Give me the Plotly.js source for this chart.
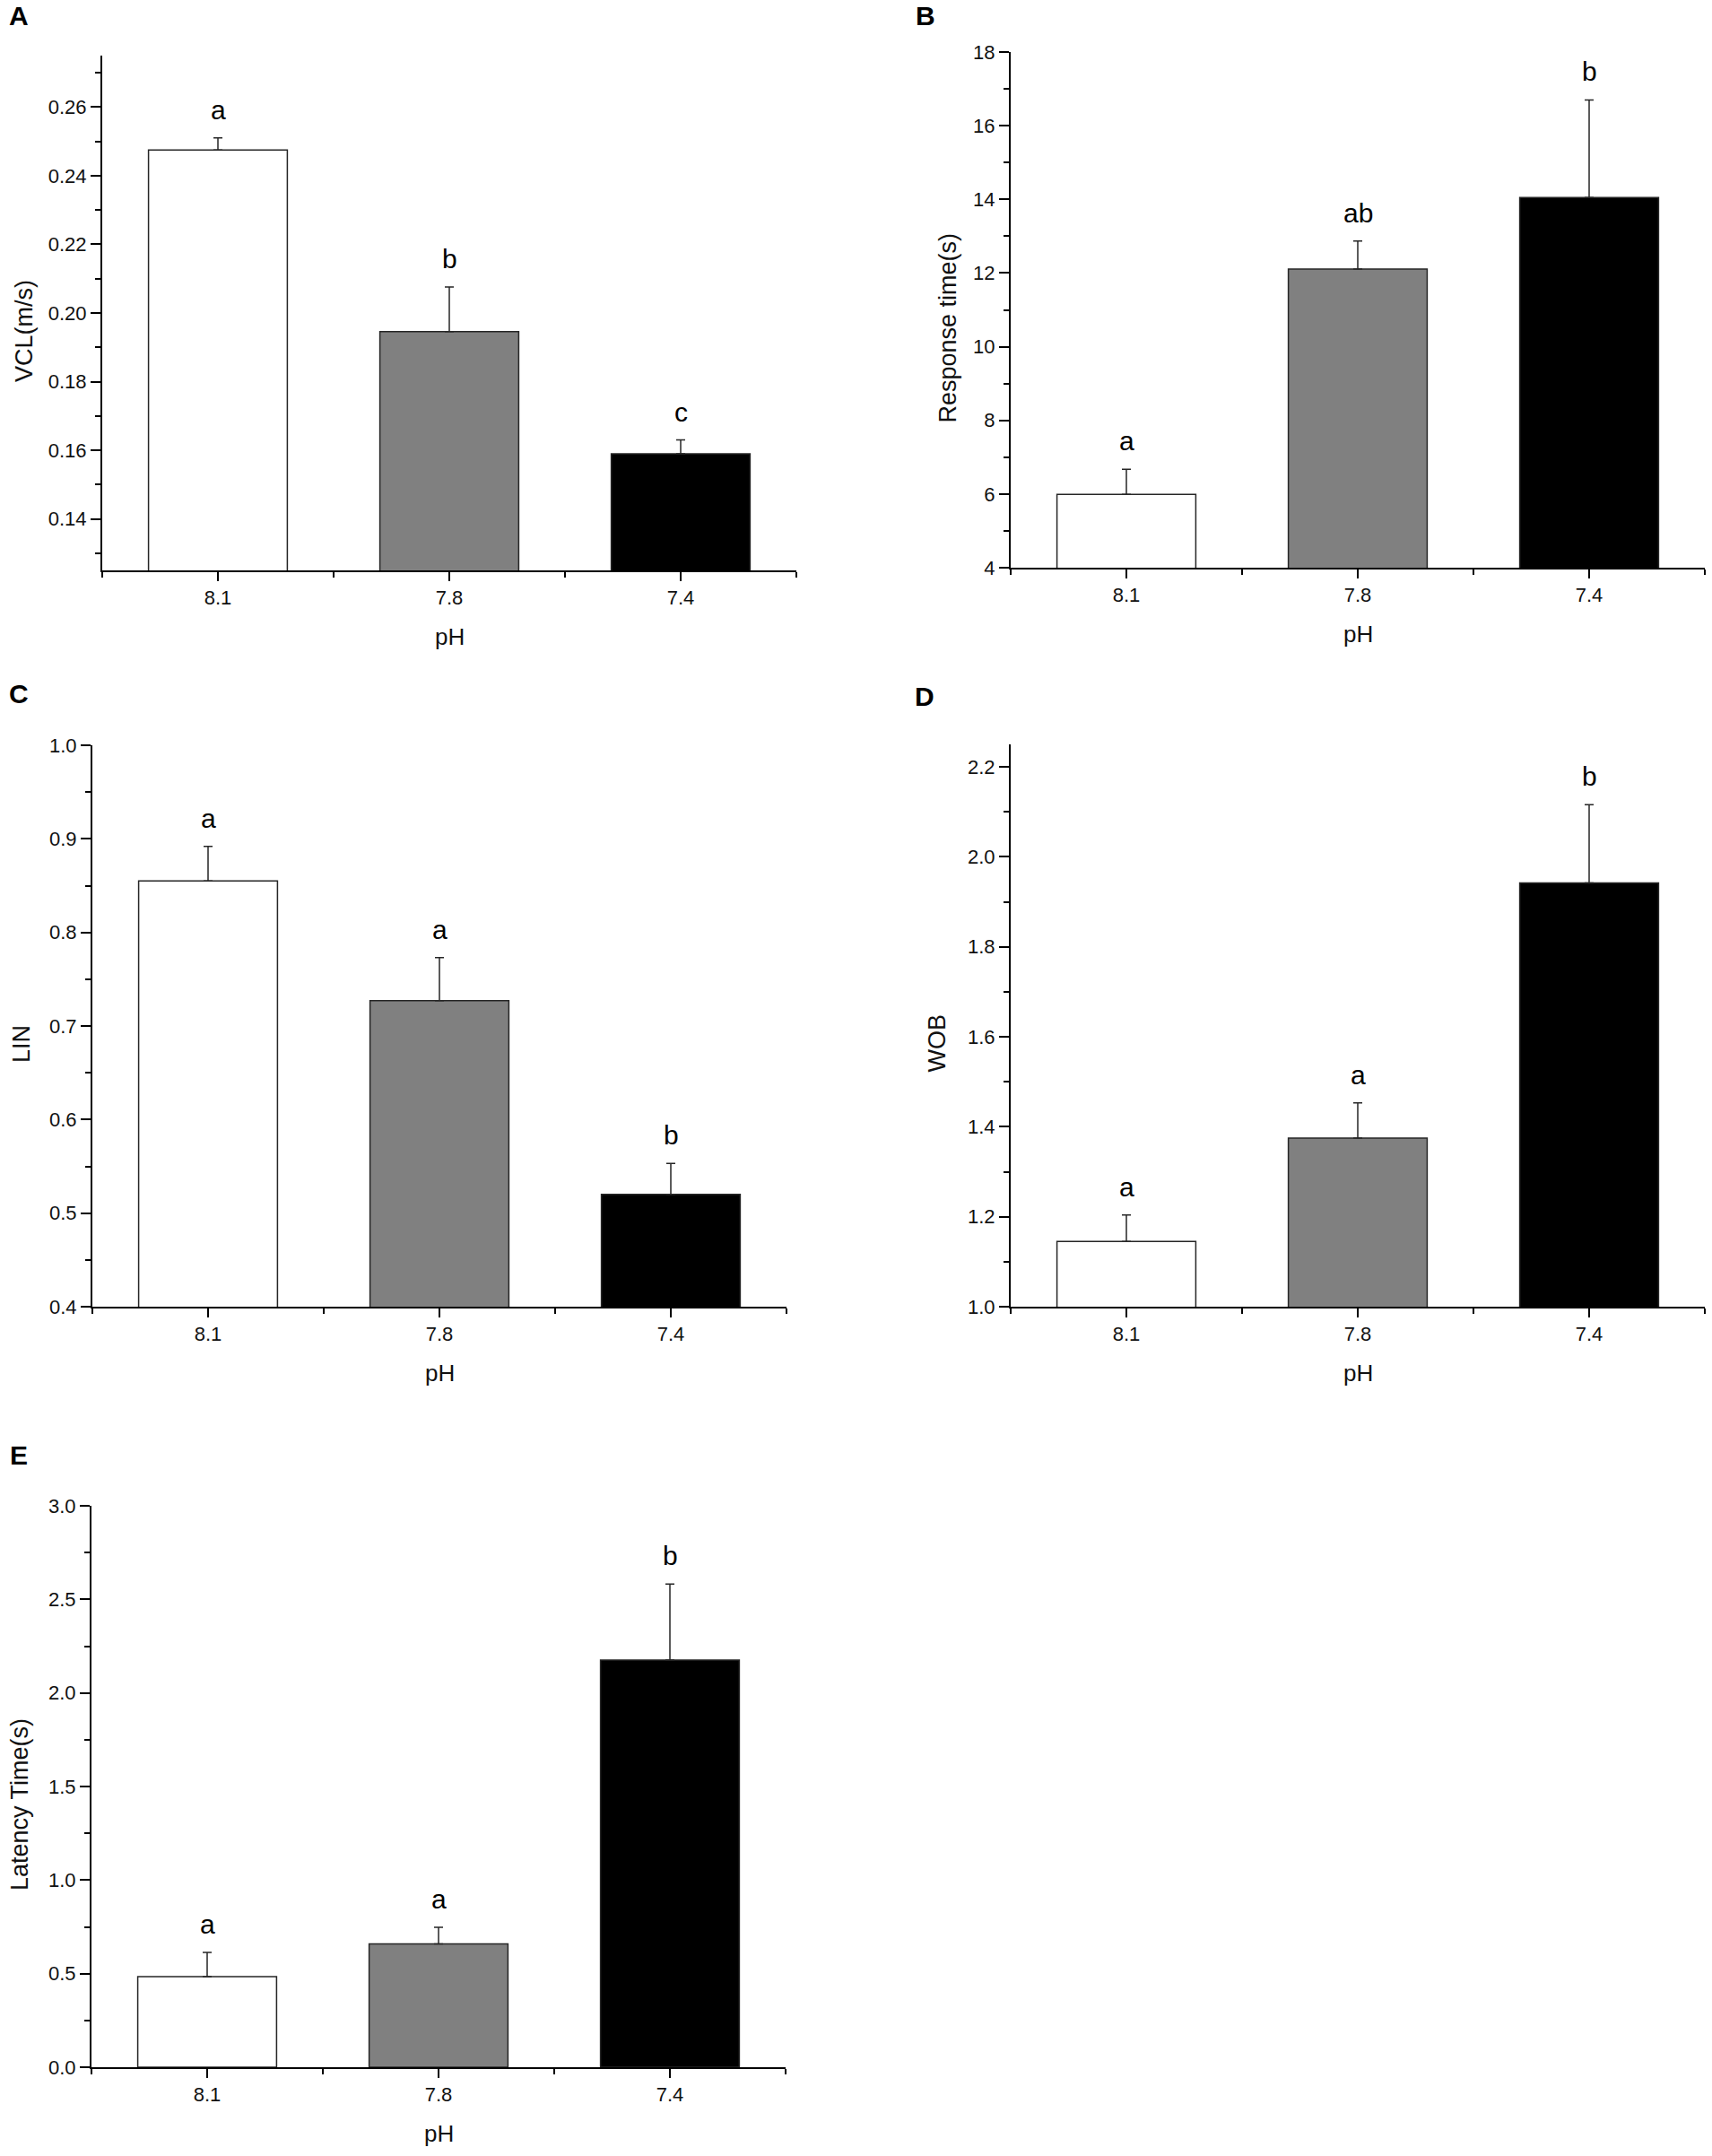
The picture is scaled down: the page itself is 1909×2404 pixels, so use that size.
<!DOCTYPE html>
<html>
<head>
<meta charset="utf-8">
<script src="https://cdn.plot.ly/plotly-3.0.1.min.js"></script>
<style>
  body { margin: 0; background: #fff; }
  #chart { width: 1909px; height: 2404px; }
</style>
</head>
<body>
<div id="chart"></div>
<script>
// pH groups, shared by all five panels
const phLevels = ['8.1', '7.8', '7.4'];
const barColors = ['#ffffff', '#808080', '#000000'];

// A - swimming speed
const vclMean = [0.2475, 0.1946, 0.1590];
const vclErr = [0.0035, 0.0130, 0.0040];
const vclLetters = ['a', 'b', 'c'];

// B - response time
const responseMean = [5.99, 12.11, 14.05];
const responseErr = [0.68, 0.76, 2.65];
const responseLetters = ['a', 'ab', 'b'];

// C - linearity
const linMean = [0.855, 0.727, 0.520];
const linErr = [0.037, 0.046, 0.033];
const linLetters = ['a', 'a', 'b'];

// D - wobble
const wobMean = [1.145, 1.375, 1.942];
const wobErr = [0.059, 0.078, 0.174];
const wobLetters = ['a', 'a', 'b'];

// E - latency time
const latencyMean = [0.484, 0.659, 2.176];
const latencyErr = [0.130, 0.089, 0.406];
const latencyLetters = ['a', 'a', 'b'];

const FONT = 'Liberation Sans, Arial, sans-serif';
const W = 1909, H = 2404;

// pixel boxes of each plot area [left, right, top, bottom]
const panels = [
    {tag: 'A', title: 'VCL(m/s)', mean: vclMean, err: vclErr, letters: vclLetters,
     box: [114, 888, 62, 636], range: [0.125, 0.275], dtick: 0.02, minor: 0.01, fmt: '.2f',
     tagPos: [21, 18], titleShift: -87},
    {tag: 'B', title: 'Response time(s)', mean: responseMean, err: responseErr, letters: responseLetters,
     box: [1127, 1901, 58, 633], range: [4, 18], dtick: 2, minor: 1, fmt: 'd',
     tagPos: [1032, 18], titleShift: -70},
    {tag: 'C', title: 'LIN', mean: linMean, err: linErr, letters: linLetters,
     box: [103, 877, 831, 1457], range: [0.4, 1.0], dtick: 0.1, minor: 0.05, fmt: '.1f',
     tagPos: [21, 774], titleShift: -79},
    {tag: 'D', title: 'WOB', mean: wobMean, err: wobErr, letters: wobLetters,
     box: [1127, 1901, 830, 1457], range: [1.0, 2.25], dtick: 0.2, minor: 0.1, fmt: '.1f',
     tagPos: [1031, 777], titleShift: -83},
    {tag: 'E', title: 'Latency Time(s)', mean: latencyMean, err: latencyErr, letters: latencyLetters,
     box: [102, 876, 1679, 2305], range: [0, 3.0], dtick: 0.5, minor: 0.25, fmt: '.1f',
     tagPos: [21, 1622], titleShift: -80}
];

function buildChart() {
    const traces = [];
    const layout = {
        width: W,
        height: H,
        margin: {l: 0, r: 0, t: 0, b: 0},
        paper_bgcolor: '#ffffff',
        plot_bgcolor: '#ffffff',
        showlegend: false,
        font: {family: FONT, color: '#111111', size: 22},
        annotations: []
    };
    const xPos = phLevels.map((p, i) => i);
    const minorX = phLevels.map((p, i) => i + 0.5).concat([-0.5]);

    panels.forEach((p, k) => {
        const n = k === 0 ? '' : String(k + 1);
        traces.push({
            type: 'bar',
            x: xPos,
            y: p.mean,
            width: 0.6,
            xaxis: 'x' + n,
            yaxis: 'y' + n,
            marker: {color: barColors, line: {color: '#262626', width: 1.5}},
            error_y: {
                type: 'data',
                symmetric: false,
                array: p.err,
                arrayminus: p.err.map(() => 0),
                color: '#262626',
                thickness: 1.5,
                width: 5
            },
            hoverinfo: 'none'
        });

        const [l, r, t, b] = p.box;
        layout['xaxis' + n] = {
            domain: [l / W, r / W],
            anchor: 'y' + n,
            range: [-0.5, 2.5],
            tickmode: 'array',
            tickvals: xPos,
            ticktext: phLevels,
            ticks: 'outside',
            ticklen: 10,
            tickwidth: 2,
            tickcolor: '#000',
            showline: true,
            linecolor: '#000',
            linewidth: 2,
            showgrid: false,
            zeroline: false,
            fixedrange: true,
            tickfont: {family: FONT, size: 22, color: '#111'},
            minor: {tickmode: 'array', tickvals: minorX, ticks: 'outside',
                    ticklen: 6, tickwidth: 2, tickcolor: '#000'}
        };
        layout['yaxis' + n] = {
            domain: [1 - b / H, 1 - t / H],
            anchor: 'x' + n,
            range: p.range,
            tick0: 0,
            dtick: p.dtick,
            tickformat: p.fmt,
            ticks: 'outside',
            ticklen: 11,
            tickwidth: 2,
            tickcolor: '#000',
            showline: true,
            linecolor: '#000',
            linewidth: 2,
            showgrid: false,
            zeroline: false,
            fixedrange: true,
            tickfont: {family: FONT, size: 22, color: '#111'},
            minor: {tick0: 0, dtick: p.minor, ticks: 'outside',
                    ticklen: 6, tickwidth: 2, tickcolor: '#000'}
        };

        // significance letters sit just above each error bar
        p.letters.forEach((txt, i) => {
            layout.annotations.push({
                xref: 'x' + n, yref: 'y' + n,
                x: i, y: p.mean[i] + p.err[i],
                text: txt, showarrow: false,
                yanchor: 'bottom', yshift: 13,
                font: {family: FONT, size: 30, color: '#000'}
            });
        });

        // y title
        layout.annotations.push({
            xref: 'x' + n + ' domain', yref: 'y' + n + ' domain',
            x: 0, y: 0.5, xshift: p.titleShift, yshift: -20,
            text: p.title, textangle: -90, showarrow: false,
            xanchor: 'center', yanchor: 'middle',
            font: {family: FONT, size: 27, color: '#111'}
        });
        // x title
        layout.annotations.push({
            xref: 'x' + n + ' domain', yref: 'y' + n + ' domain',
            x: 0.5, y: 0, yshift: -74,
            text: 'pH', showarrow: false,
            xanchor: 'center', yanchor: 'middle',
            font: {family: FONT, size: 26, color: '#111'}
        });
        // panel tag
        layout.annotations.push({
            xref: 'paper', yref: 'paper',
            x: p.tagPos[0] / W, y: 1 - p.tagPos[1] / H,
            text: '<b>' + p.tag + '</b>', showarrow: false,
            xanchor: 'center', yanchor: 'middle',
            font: {family: FONT, size: 30, color: '#000'}
        });
    });

    Plotly.newPlot('chart', traces, layout, {staticPlot: true, displayModeBar: false});
}

buildChart();
</script>
</body>
</html>
